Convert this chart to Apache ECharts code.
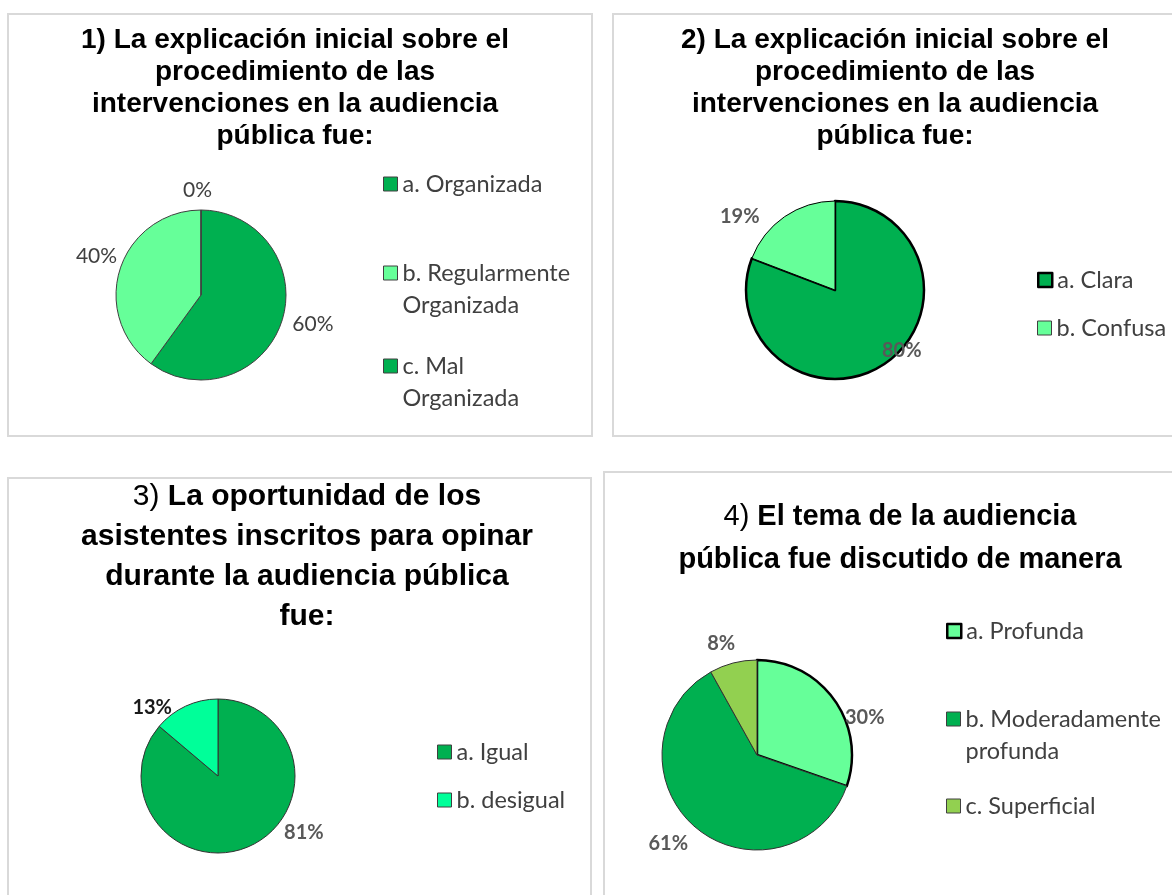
<!DOCTYPE html>
<html>
<head>
<meta charset="utf-8">
<script src="https://cdn.jsdelivr.net/npm/echarts@6/dist/echarts.min.js"></script>
<style>
  html, body { margin: 0; padding: 0; background: #fff; }
  #main { width: 1172px; height: 895px; }
</style>
</head>
<body>
<div id="main"></div>
<script>
  // 1) explicacion inicial (organizacion)
  const p1Names = ['a. Organizada', 'b. Regularmente Organizada', 'c. Mal Organizada'];
  const p1Values = [60, 40, 0];
  // 2) explicacion inicial (clara / confusa)
  const p2Names = ['a. Clara', 'b. Confusa'];
  const p2Values = [80, 19];
  // 3) oportunidad de opinar
  const p3Names = ['a. Igual', 'b. desigual'];
  const p3Values = [81, 13];
  // 4) tema discutido
  const p4Names = ['a. Profunda', 'b. Moderadamente profunda', 'c. Superficial'];
  const p4Values = [30, 61, 8];

  const titleTexts = [
    '1) La explicación inicial sobre el\nprocedimiento de las\nintervenciones en la audiencia\npública fue:',
    '2) La explicación inicial sobre el\nprocedimiento de las\nintervenciones en la audiencia\npública fue:',
    '{n|3)} La oportunidad de los\nasistentes inscritos para opinar\ndurante la audiencia pública\nfue:',
    '{n|4)} El tema de la audiencia\npública fue discutido de manera'
  ];

  // legend text wrapped like the original
  const legendWrap = {
    'b. Regularmente Organizada': 'b. Regularmente\nOrganizada',
    'c. Mal Organizada': 'c. Mal\nOrganizada',
    'b. Moderadamente profunda': 'b. Moderadamente\nprofunda'
  };

  const GREEN = '#00B050', LIGHT = '#66FF99', MINT = '#00FF99', LIME = '#92D050';

  var chartDom = document.getElementById('main');
  var myChart = echarts.init(chartDom);

  function mkTitle(text, x, y, size, lh) {
    return {
      text: text, left: x, top: y, textAlign: 'center', padding: 0,
      textStyle: {
        fontFamily: 'Liberation Sans', fontWeight: 'bold', fontSize: size, lineHeight: lh, color: '#000',
        rich: { n: { fontFamily: 'Liberation Sans', fontWeight: 'normal', fontSize: size, lineHeight: lh, color: '#000' } }
      }
    };
  }

  function mkLegend(name, left, centerY, bw, bc) {
    const txt = legendWrap[name] || name;
    const n = txt.split('\n').length;
    const blockH = (n > 1 ? n + 1 : 1) * 32;
    return {
      data: [{ name: name, itemStyle: { borderWidth: bw, borderColor: bc } }],
      left: left, top: centerY - blockH / 2, padding: 0,
      orient: 'vertical', icon: 'rect', itemWidth: 14, itemHeight: 14, itemGap: 0,
      selectedMode: false,
      // blank first line keeps the square level with the first text line
      formatter: function (nm) { const t = legendWrap[nm] || nm; return t.indexOf('\n') >= 0 ? '\n' + t : t; },
      textStyle: { fontFamily: 'Lato', fontSize: 23.5, color: '#404040', lineHeight: 32 }
    };
  }

  function mkPie(names, values, colors, center, radius, lens, label, borders) {
    return {
      type: 'pie', center: center, radius: radius, startAngle: 90, clockwise: true,
      avoidLabelOverlap: false, animation: false,
      emphasis: { disabled: true },
      label: Object.assign({ show: true, position: 'outside', formatter: '{c}%', fontFamily: 'Lato' }, label),
      labelLine: { show: false },
      data: names.map(function (n, i) {
        return {
          name: n, value: values[i],
          itemStyle: { color: colors[i], borderColor: borders[i][1], borderWidth: borders[i][0] },
          labelLine: { length: lens[i][0], length2: lens[i][1] },
          label: label.colors ? { color: label.colors[i] } : {}
        };
      })
    };
  }

  const thin = [1, '#404040'];
  const thick = [2.5, '#000'];

  let option = {
    backgroundColor: '#fff',
    animation: false,
    graphic: [
      { type: 'rect', z: -1, silent: true, shape: { x: 8, y: 14, width: 584, height: 422 }, style: { fill: 'none', stroke: '#D9D9D9', lineWidth: 2 } },
      { type: 'rect', z: -1, silent: true, shape: { x: 613, y: 14, width: 600, height: 422 }, style: { fill: 'none', stroke: '#D9D9D9', lineWidth: 2 } },
      { type: 'rect', z: -1, silent: true, shape: { x: 8, y: 478, width: 583, height: 440 }, style: { fill: 'none', stroke: '#D9D9D9', lineWidth: 2 } },
      { type: 'rect', z: -1, silent: true, shape: { x: 604, y: 472, width: 600, height: 440 }, style: { fill: 'none', stroke: '#D9D9D9', lineWidth: 2 } }
    ],
    title: [
      mkTitle(titleTexts[0], 295, 24, 28, 32),
      mkTitle(titleTexts[1], 895, 24, 28, 32),
      mkTitle(titleTexts[2], 307, 477, 30, 40),
      mkTitle(titleTexts[3], 900, 495, 29, 43)
    ],
    legend: [
      mkLegend(p1Names[0], 383, 184, 1, '#404040'),
      mkLegend(p1Names[1], 383, 273, 1, '#404040'),
      mkLegend(p1Names[2], 383, 366, 1, '#404040'),
      mkLegend(p2Names[0], 1037, 280, 2.5, '#000'),
      mkLegend(p2Names[1], 1037, 328, 1, '#404040'),
      mkLegend(p3Names[0], 437, 752, 1, '#404040'),
      mkLegend(p3Names[1], 437, 800, 1, '#404040'),
      mkLegend(p4Names[0], 946, 631, 2.5, '#000'),
      mkLegend(p4Names[1], 946, 719, 1, '#404040'),
      mkLegend(p4Names[2], 946, 806, 1, '#404040')
    ],
    series: [
      mkPie(p1Names, p1Values, [GREEN, LIGHT, GREEN], [201, 295], 85,
        [[10, -4], [40, -40], [20, -16]],
        { fontSize: 21, color: '#404040' }, [thin, thin, thin]),
      mkPie(p2Names, p2Values, [GREEN, LIGHT], [835, 290], 89,
        [[-15, 0], [0, 20]],
        { fontSize: 20, fontWeight: 'bold', color: '#595959' }, [thick, [1, '#000']]),
      mkPie(p3Names, p3Values, [GREEN, MINT], [218, 776], 77,
        [[-15, 35], [-1, 9]],
        { fontSize: 20, fontWeight: 'bold', color: '#595959', colors: ['#595959', '#1a1a1a'] }, [[1, '#333'], [1, '#333']]),
      mkPie(p4Names, p4Values, [LIGHT, GREEN, LIME], [757, 755], 95,
        [[-30, 30], [20, -10], [20, -12]],
        { fontSize: 20, fontWeight: 'bold', color: '#595959' }, [thick, [1, '#333'], [1, '#333']])
    ]
  };

  myChart.setOption(option);
</script>
</body>
</html>
